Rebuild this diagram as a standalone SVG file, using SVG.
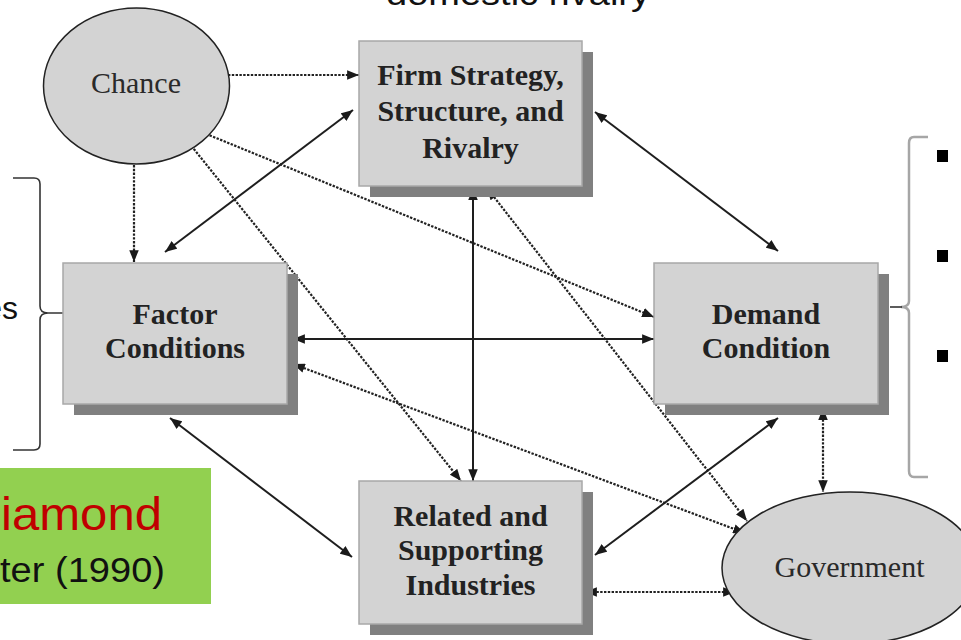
<svg xmlns="http://www.w3.org/2000/svg" width="961" height="640" viewBox="0 0 961 640">
<style>
.box{fill:#d3d3d3;stroke:#a8a8a8;stroke-width:1.5}
.shadow{fill:#808080}
.ell{fill:#d3d3d3;stroke:#222;stroke-width:1.5}
.lbl{font-family:"Liberation Serif","Times New Roman",serif;font-size:30px;font-weight:bold;fill:#222;text-anchor:middle}
.elbl{font-family:"Liberation Serif","Times New Roman",serif;font-size:30px;fill:#2a2a2a;text-anchor:middle}
.solid{stroke:#1e1e1e;stroke-width:2;fill:none}
.dot{stroke:#222;stroke-width:2.2;fill:none;stroke-dasharray:2.4 1.4}
.sans{font-family:"Liberation Sans",Arial,sans-serif}
</style>
<defs>
<marker id="ah" viewBox="0 0 10 8" refX="10" refY="4" markerWidth="12" markerHeight="9.5" markerUnits="userSpaceOnUse" orient="auto-start-reverse">
<path d="M0,0 L10,4 L0,8 z" fill="#1a1a1a"/>
</marker>
</defs>
<rect width="961" height="640" fill="#ffffff"/>
<text class="sans" x="386" y="5" font-size="34" fill="#111" textLength="264" lengthAdjust="spacingAndGlyphs">domestic rivalry</text>
<g id="left-brace">
<path d="M13,178 L34,178 Q40,178 40,184 L40,306 Q40,313 48,313 Q40,313 40,320 L40,444 Q40,450 34,450 L13,450 M48,313 L63,313" fill="none" stroke="#333" stroke-width="1.6"/>
<text class="sans" x="18" y="319" font-size="32" text-anchor="end" fill="#111">es</text>
</g>
<g id="right-brace">
<path d="M928,137 L914,137 Q909,137 909,143 L909,301 Q909,307 901,307 Q909,307 909,313 L909,471 Q909,477 914,477 L928,477" fill="none" stroke="#a6a6a6" stroke-width="2.5"/>
<path d="M890,307 L902,307" stroke="#333" stroke-width="1.6"/>
<rect x="937" y="150" width="11" height="12" fill="#000"/>
<rect x="937" y="250" width="11" height="12" fill="#000"/>
<rect x="937" y="350" width="11" height="12" fill="#000"/>
</g>
<g id="label-box">
<rect x="0" y="468" width="211" height="136" fill="#92d050"/>
<text class="sans" x="1" y="530" font-size="46" fill="#c00000" textLength="161" lengthAdjust="spacingAndGlyphs">iamond</text>
<text class="sans" x="0" y="582" font-size="35" fill="#111" textLength="165" lengthAdjust="spacingAndGlyphs">ter (1990)</text>
</g>
<g id="connectors">
<path class="dot" d="M209,75 L359,75" marker-end="url(#ah)"/>
<path class="dot" d="M134,165 L134,262" marker-end="url(#ah)"/>
<path class="solid" d="M165,252 L353,110" marker-start="url(#ah)" marker-end="url(#ah)"/>
<path class="dot" d="M199,131 L654,317" marker-end="url(#ah)"/>
<path class="dot" d="M189,143 L461,481" marker-end="url(#ah)"/>
<path class="solid" d="M595,112 L778,251" marker-start="url(#ah)" marker-end="url(#ah)"/>
<path class="solid" d="M473,188 L473,481" marker-start="url(#ah)" marker-end="url(#ah)"/>
<path class="dot" d="M487,188 L747,521" marker-start="url(#ah)" marker-end="url(#ah)"/>
<path class="solid" d="M293,339 L654,339" marker-start="url(#ah)" marker-end="url(#ah)"/>
<path class="dot" d="M293,364 L745,533" marker-start="url(#ah)" marker-end="url(#ah)"/>
<path class="solid" d="M170,418 L352,557" marker-start="url(#ah)" marker-end="url(#ah)"/>
<path class="solid" d="M778,418 L595,555" marker-start="url(#ah)" marker-end="url(#ah)"/>
<path class="dot" d="M823,408 L823,492" marker-start="url(#ah)" marker-end="url(#ah)"/>
<path class="dot" d="M585,592 L735,592" marker-start="url(#ah)" marker-end="url(#ah)"/>
</g>
<g id="chance">
<ellipse class="ell" cx="136.5" cy="86" rx="93" ry="78"/>
<text class="elbl" x="136" y="93">Chance</text>
</g>
<g id="firm">
<rect class="shadow" x="370" y="52" width="223" height="145"/>
<rect class="box" x="359" y="41" width="223" height="145"/>
<text class="lbl" x="470.5" y="85">Firm Strategy,</text>
<text class="lbl" x="470.5" y="121">Structure, and</text>
<text class="lbl" x="470.5" y="158">Rivalry</text>
</g>
<g id="factor">
<rect class="shadow" x="74" y="274" width="224" height="141"/>
<rect class="box" x="63" y="263" width="224" height="141"/>
<text class="lbl" x="175" y="324">Factor</text>
<text class="lbl" x="175" y="358">Conditions</text>
</g>
<g id="demand">
<rect class="shadow" x="665" y="274" width="224" height="141"/>
<rect class="box" x="654" y="263" width="224" height="141"/>
<text class="lbl" x="766" y="324">Demand</text>
<text class="lbl" x="766" y="358">Condition</text>
</g>
<g id="related">
<rect class="shadow" x="370" y="492" width="223" height="143"/>
<rect class="box" x="359" y="481" width="223" height="143"/>
<text class="lbl" x="470.5" y="526">Related and</text>
<text class="lbl" x="470.5" y="560">Supporting</text>
<text class="lbl" x="470.5" y="595">Industries</text>
</g>
<g id="government">
<ellipse class="ell" cx="850" cy="568" rx="128" ry="76"/>
<text class="elbl" x="849.5" y="577">Government</text>
</g>
</svg>
